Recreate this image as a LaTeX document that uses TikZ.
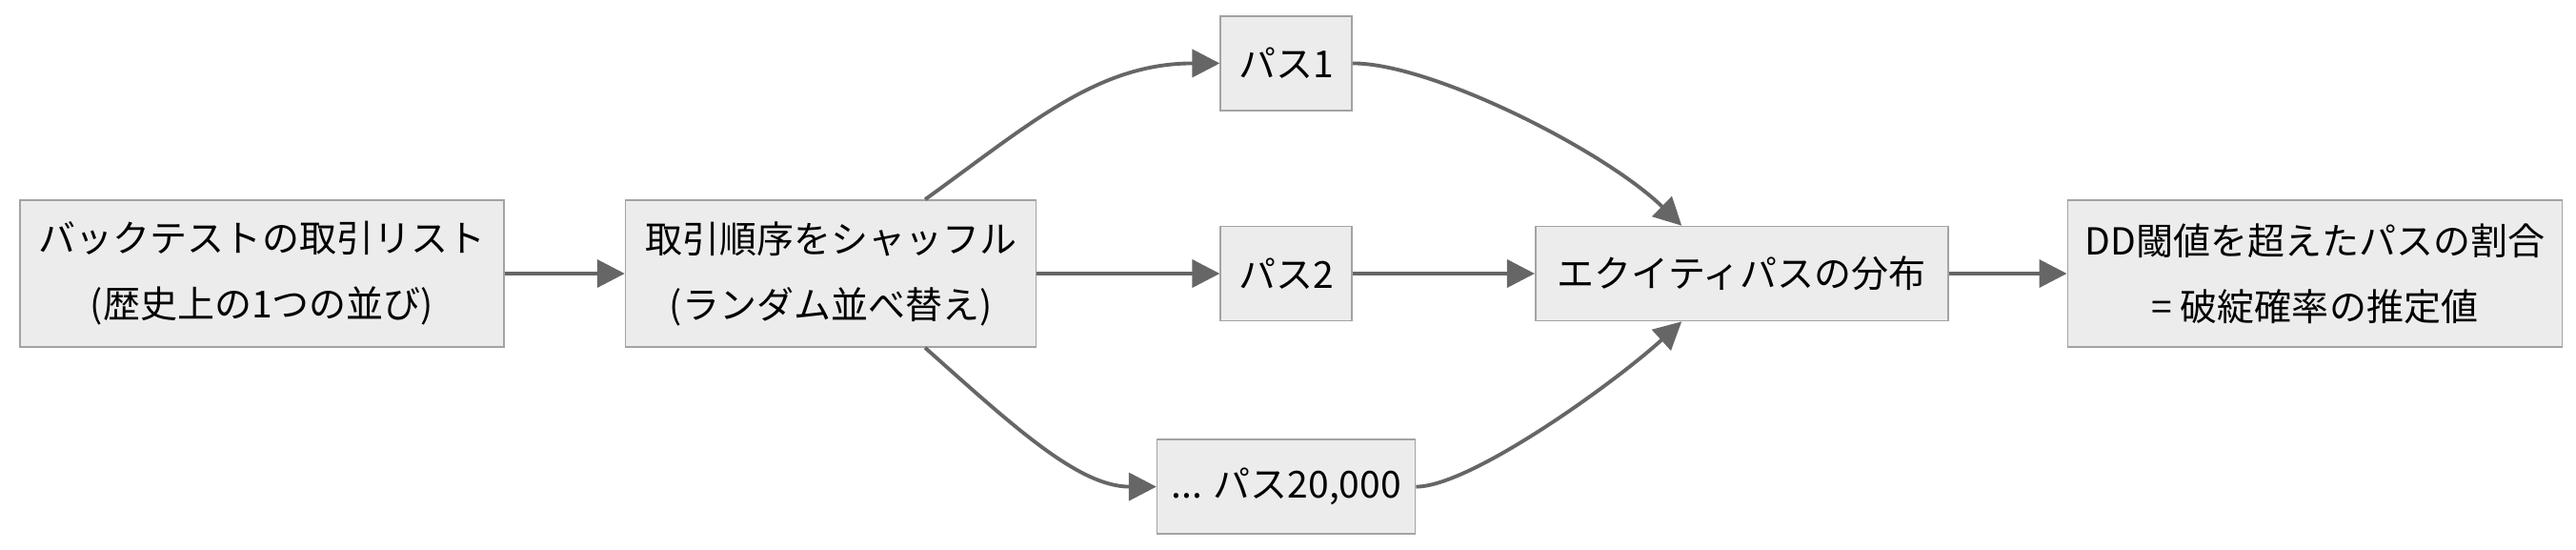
\documentclass[tikz,border=0pt]{standalone}
\usepackage{fontspec}
\setmainfont{Noto Sans CJK JP}
\usetikzlibrary{positioning, arrows.meta}
\definecolor{boxfill}{HTML}{ECECEC}
\definecolor{boxline}{HTML}{A3A3A3}
\definecolor{flowline}{HTML}{666666}

\begin{document}
\begin{tikzpicture}[
    box/.style={draw=boxline, fill=boxfill, line width=0.45pt, align=center, inner sep=0pt, minimum height=0.99cm},
    tall/.style={minimum height=1.54cm},
    flow/.style={draw=flowline, line width=1.1pt, -{Triangle[length=0.29cm,width=0.29cm]}},
    font=\fontsize{11.1pt}{19.6pt}\selectfont
]
    \useasboundingbox (0,0) rectangle (27.04,-5.76);

    \node[box, tall, minimum width=5.08cm] (A) at (2.75,-2.87) {バックテストの取引リスト\\(歴史上の1つの並び)};
    \node[box, tall, minimum width=4.31cm, right=1.26cm of A] (B) {取引順序をシャッフル\\(ランダム並べ替え)};
    \node[box, minimum width=1.38cm, right=1.92cm of B] (P2) {パス2};
    \node[box, minimum width=1.38cm, above=1.2cm of P2] (P1) {パス1};
    \node[box, minimum width=2.71cm, below=1.23cm of P2] (P3) {... パス20,000};
    \node[box, minimum width=4.33cm, right=1.91cm of P2] (E) {エクイティパスの分布};
    \node[box, tall, minimum width=5.19cm, right=1.24cm of E] (F) {DD閾値を超えたパスの割合\\= 破綻確率の推定値};

    \draw[flow] (A) -- (B);
    \draw[flow] ([xshift=0.99cm]B.north) .. controls +(1.11,0.8) and +(-1.28,0) .. (P1.west);
    \draw[flow] (B) -- (P2);
    \draw[flow] ([xshift=0.99cm]B.south) .. controls +(0.91,-0.81) and +(-0.82,0) .. (P3.west);
    \draw[flow] (P1.east) .. controls +(0.84,0) and +(-0.8,0.78) .. ([xshift=-0.63cm]E.north);
    \draw[flow] (P2) -- (E);
    \draw[flow] (P3.east) .. controls +(0.57,0) and +(-0.7,-0.64) .. ([xshift=-0.63cm]E.south);
    \draw[flow] (E) -- (F);
\end{tikzpicture}
\end{document}
